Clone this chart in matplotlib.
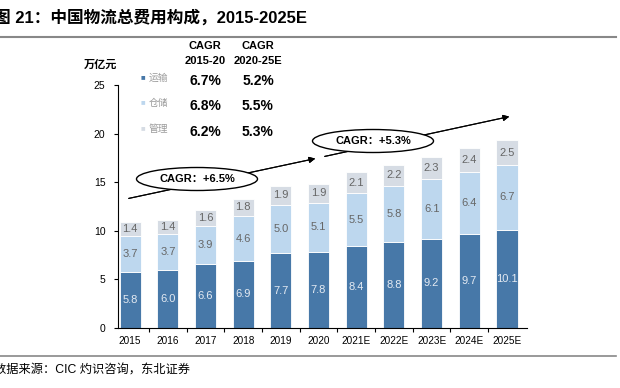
import matplotlib.pyplot as plt
from matplotlib.patches import Ellipse
import numpy as np

plt.rcParams['font.family'] = ['Liberation Sans', 'Noto Sans CJK SC']

years = ['2015', '2016', '2017', '2018', '2019', '2020',
         '2021E', '2022E', '2023E', '2024E', '2025E']
transport = [5.8, 6.0, 6.6, 6.9, 7.7, 7.8, 8.4, 8.8, 9.2, 9.7, 10.1]
storage = [3.7, 3.7, 3.9, 4.6, 5.0, 5.1, 5.5, 5.8, 6.1, 6.4, 6.7]
management = [1.4, 1.4, 1.6, 1.8, 1.9, 1.9, 2.1, 2.2, 2.3, 2.4, 2.5]

series_names = ['运输', '仓储', '管理']
cagr_1520 = ['6.7%', '6.8%', '6.2%']
cagr_2025 = ['5.2%', '5.5%', '5.3%']

colors = ['#4778A8', '#BDD7EE', '#D6DCE4']
W, H = 620, 388

fig = plt.figure(figsize=(6.2, 3.88), dpi=100)
ax = fig.add_axes([118 / W, 1 - 328 / H, (527 - 118) / W, (328 - 85) / H])

x = np.arange(len(years))
bw = 0.56
bottom = np.zeros(len(years))
for vals, col in zip([transport, storage, management], colors):
    bars = ax.bar(x, vals, bw, bottom=bottom, color=col, edgecolor='white', linewidth=0.6)
    tc = '#E4EAF2' if col == colors[0] else '#666666'
    for xi, b, v in zip(x, bottom, vals):
        ax.text(xi, b + v / 2, f'{v:.1f}', ha='center', va='center', fontsize=8, color=tc)
    bottom += np.array(vals)

ax.set_xlim(-0.32, 10.53)
ax.set_ylim(0, 25)
ax.set_yticks([0, 5, 10, 15, 20, 25])
ax.tick_params(axis='y', labelsize=7.5, length=3, width=0.8, pad=6)
ax.set_xticks(np.arange(len(years) - 1) + 0.5)
ax.set_xticklabels([])
ax.set_xticks(x, minor=True)
ax.set_xticklabels(years, minor=True, fontsize=7.2)
ax.tick_params(axis='x', which='major', length=3, width=0.8, direction='out')
ax.tick_params(axis='x', which='minor', length=0, pad=6)
for s in ['top', 'right']:
    ax.spines[s].set_visible(False)
for s in ['left', 'bottom']:
    ax.spines[s].set_linewidth(0.8)

def fx(px):
    return px / W

def fy(py):
    return 1 - py / H

# title and rules
fig.text(fx(-6), fy(17), '图 21：中国物流总费用构成，2015-2025E', fontsize=12,
         fontweight='bold', va='center', ha='left')
fig.add_artist(plt.Line2D([0, fx(616)], [fy(37), fy(37)], color='#888888', lw=1.5))
fig.add_artist(plt.Line2D([0, fx(616)], [fy(356), fy(356)], color='#888888', lw=1.2))
fig.text(fx(-6), fy(371), '数据来源：CIC 灼识咨询，东北证券', fontsize=8.8, va='center', ha='left')

fig.text(fx(100), fy(65), '万亿元', fontsize=8, fontweight='bold', va='center', ha='center')

# legend + CAGR table
fig.text(fx(205), fy(46), 'CAGR', fontsize=8, fontweight='bold', ha='center', va='center')
fig.text(fx(205), fy(61), '2015-20', fontsize=8, fontweight='bold', ha='center', va='center')
fig.text(fx(258), fy(46), 'CAGR', fontsize=8, fontweight='bold', ha='center', va='center')
fig.text(fx(258), fy(61), '2020-25E', fontsize=8, fontweight='bold', ha='center', va='center')
for i, (name, c1, c2, col) in enumerate(zip(series_names, cagr_1520, cagr_2025, colors)):
    yy = [78, 103, 129][i]
    fig.text(fx(141), fy(yy), '■', fontsize=5.5, color=col, ha='left', va='center')
    fig.text(fx(149), fy(yy), name, fontsize=7, color='#9A9A9A', ha='left', va='center')
    fig.text(fx(205), fy(yy + 3), c1, fontsize=10, fontweight='bold', ha='center', va='center')
    fig.text(fx(258), fy(yy + 3), c2, fontsize=10, fontweight='bold', ha='center', va='center')

# growth arrows and ellipses
fig.add_artist(plt.annotate('', xy=(fx(318), fy(158)), xytext=(fx(126), fy(199)),
                            xycoords='figure fraction', textcoords='figure fraction',
                            arrowprops=dict(arrowstyle='-|>', color='black', lw=0.8,
                                            mutation_scale=9)))
fig.add_artist(plt.annotate('', xy=(fx(512), fy(116)), xytext=(fx(322), fy(157)),
                            xycoords='figure fraction', textcoords='figure fraction',
                            arrowprops=dict(arrowstyle='-|>', color='black', lw=0.8,
                                            mutation_scale=9)))
for cx, cy, label in [(197, 179, 'CAGR：+6.5%'), (373, 141, 'CAGR：+5.3%')]:
    e = Ellipse((fx(cx), fy(cy)), fx(121), 23 / H, transform=fig.transFigure,
                facecolor='white', edgecolor='black', lw=1.0, zorder=5)
    fig.add_artist(e)
    fig.text(fx(cx), fy(cy), label, fontsize=8, fontweight='bold', ha='center',
             va='center', zorder=6)

fig.savefig('out.png', dpi=100)
